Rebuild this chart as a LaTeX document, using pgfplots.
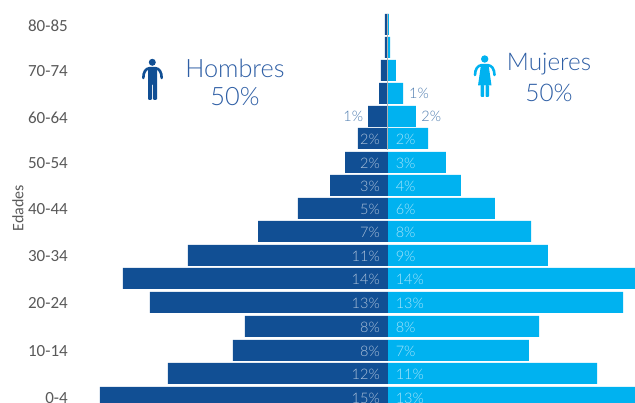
\documentclass[border=0pt]{standalone}
\usepackage{pgfplots}
\pgfplotsset{compat=1.18}
\usepackage{fontspec}
\setmainfont{Carlito}
\newfontfamily\lt{Lato Light}
\definecolor{dk}{HTML}{114F94}
\definecolor{lb}{HTML}{00B2F0}
\definecolor{tt}{HTML}{2F5FA5}
\definecolor{gy}{HTML}{595959}
\begin{document}
\begin{tikzpicture}[x=1pt,y=1pt]
\useasboundingbox (0,0) rectangle (635,403);
\begin{axis}[
  at={(72pt,0pt)},anchor=south west,
  scale only axis,width=563pt,height=403pt,
  xmin=-16.632,xmax=13,ymin=0,ymax=403,
  axis x line=none,
  axis y line=left,
  y axis line style={draw=none},
  major tick length=0pt,
  ytick={5.5,52.5,100.5,147.5,194.5,240.5,286.5,332.5,378.5},
  yticklabels={0-4,10-14,20-24,30-34,40-44,50-54,60-64,70-74,80-85},
  yticklabel style={font=\fontsize{17}{17}\selectfont,text=gy,inner sep=0pt,xshift=-4pt,yshift=-1pt},
  clip=true,
]
\addplot[xbar,bar width=21pt,bar shift=0pt,fill=dk,draw=none] coordinates {
(-15.16,5.5)(-11.58,29.5)(-8.16,52.5)(-7.53,76.5)(-12.53,100.5)(-13.95,124.5)(-10.53,147.5)(-6.84,171.5)(-4.74,194.5)
(-3.05,217.5)(-2.26,240.5)(-1.58,264.5)(-1.05,286.5)(-0.47,309.5)(-0.37,332.5)(-0.16,355.5)(-0.16,378.5)};
\addplot[xbar,bar width=21pt,bar shift=0pt,fill=lb,draw=none] coordinates {
(13.2,5.5)(11,29.5)(7.42,52.5)(7.95,76.5)(12.37,100.5)(14.2,124.5)(8.42,147.5)(7.53,171.5)(5.63,194.5)
(3.84,217.5)(3.05,240.5)(2.11,264.5)(1.47,286.5)(0.79,309.5)(0.42,332.5)(0.11,355.5)(0.05,378.5)};
\addplot[draw=black!30,line width=0.8pt] coordinates {(-0.03,253)(-0.03,389)};
% male labels inside bars
\addplot[only marks,mark=none,
  nodes near coords,point meta=explicit symbolic,
  nodes near coords style={font=\lt\fontsize{14.5}{14.5}\selectfont,text=white!65!dk,anchor=east,inner sep=0pt,yshift=-0.5pt},
] coordinates {
(-0.42,5.5)[15\%](-0.42,29.5)[12\%](-0.42,52.5)[8\%](-0.42,76.5)[8\%](-0.42,100.5)[13\%](-0.42,124.5)[14\%](-0.42,147.5)[11\%](-0.42,171.5)[7\%](-0.42,194.5)[5\%](-0.42,217.5)[3\%](-0.42,240.5)[2\%](-0.42,264.5)[2\%]};
% female labels inside bars
\addplot[only marks,mark=none,
  nodes near coords,point meta=explicit symbolic,
  nodes near coords style={font=\lt\fontsize{14.5}{14.5}\selectfont,text=white!65!lb,anchor=west,inner sep=0pt,yshift=-0.5pt},
] coordinates {
(0.4,5.5)[13\%](0.4,29.5)[11\%](0.4,52.5)[7\%](0.4,76.5)[8\%](0.4,100.5)[13\%](0.4,124.5)[14\%](0.4,147.5)[9\%](0.4,171.5)[8\%](0.4,194.5)[6\%](0.4,217.5)[4\%](0.4,240.5)[3\%](0.4,264.5)[2\%]};
% outside labels
\addplot[only marks,mark=none,
  nodes near coords,point meta=explicit symbolic,
  nodes near coords style={font=\lt\fontsize{14.5}{14.5}\selectfont,text=white!25!dk,anchor=east,inner sep=0pt},
] coordinates {(-1.3,286.5)[1\%]};
\addplot[only marks,mark=none,
  nodes near coords,point meta=explicit symbolic,
  nodes near coords style={font=\lt\fontsize{14.5}{14.5}\selectfont,text=white!25!dk,anchor=west,inner sep=0pt},
] coordinates {(1.75,286.5)[2\%](1.1,309.5)[1\%]};
\end{axis}
\node[rotate=90,font=\fontsize{16}{16}\selectfont,text=gy,inner sep=0pt] at (18,195) {Edades};
\begin{scope}[shift={(0,403)},yscale=-1]
  \node[font=\lt\fontsize{25.3}{25.3}\selectfont,text=tt,inner sep=0pt] at (235,68.5) {Hombres};
  \node[font=\lt\fontsize{25.3}{25.3}\selectfont,text=tt,inner sep=0pt] at (235,97) {50\%};
  \node[font=\lt\fontsize{24.3}{24.3}\selectfont,text=tt,inner sep=0pt] at (549,64) {Mujeres};
  \node[font=\lt\fontsize{24.3}{24.3}\selectfont,text=tt,inner sep=0pt] at (549,93) {50\%};
  % man
  \fill[dk] (152.3,62.3) circle (3.5);
  \draw[dk,line width=2.6,line cap=round] (143.3,78) .. controls (143.3,72) and (146,68.5) .. (149,68.3) -- (156,68.3) .. controls (159,68.5) and (161.7,72) .. (161.7,78);
  \fill[dk,rounded corners=1] (148,67.2) -- (157,67.2) -- (157,100) -- (153,100) -- (153,84) -- (152,84) -- (152,100) -- (148,100) -- cycle;
  % woman
  \fill[lb] (484.7,59) circle (3.7);
  \draw[lb,line width=2.6,line cap=round] (475,75) .. controls (475,69) and (478,65.5) .. (481,65.3) -- (488.5,65.3) .. controls (491.5,65.5) and (494.5,69) .. (494.5,75);
  \fill[lb] (481,64.5) -- (488.5,64.5) -- (491.5,85.5) -- (478,85.5) -- cycle;
  \fill[lb,rounded corners=0.8] (480.7,85) rectangle (484.2,97);
  \fill[lb,rounded corners=0.8] (485.5,85) rectangle (489,97);
\end{scope}
\end{tikzpicture}
\end{document}
